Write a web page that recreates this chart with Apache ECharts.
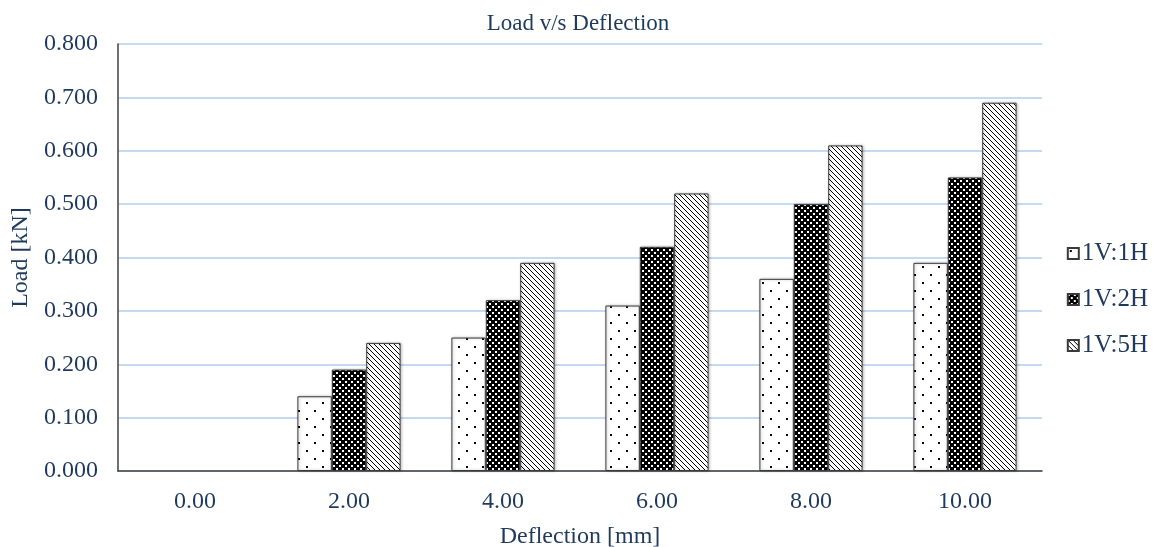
<!DOCTYPE html>
<html>
<head>
<meta charset="utf-8">
<script src="https://cdn.jsdelivr.net/npm/echarts@6/dist/echarts.min.js"></script>
<style>html,body{margin:0;padding:0;background:#fff}#c{width:1156px;height:547px}</style>
</head>
<body>
<div id="c"></div>
<script>
const categories = ['0.00', '2.00', '4.00', '6.00', '8.00', '10.00'];
const s1V1H = [0, 0.14, 0.25, 0.31, 0.36, 0.39];
const s1V2H = [0, 0.19, 0.32, 0.42, 0.50, 0.55];
const s1V5H = [0, 0.24, 0.39, 0.52, 0.61, 0.69];
const seriesNames = ['1V:1H', '1V:2H', '1V:5H'];

function makeTile(w, h, fn) {
  const c = document.createElement('canvas');
  c.width = w; c.height = h;
  const ctx = c.getContext('2d');
  const img = ctx.createImageData(w, h);
  for (let y = 0; y < h; y++) for (let x = 0; x < w; x++) {
    const v = fn(x, y) ? 0 : 255;
    const i = (y * w + x) * 4;
    img.data[i] = v; img.data[i+1] = v; img.data[i+2] = v; img.data[i+3] = 255;
  }
  ctx.putImageData(img, 0, 0);
  return c;
}
const inDot = (x, y, dx, dy) => (x >= dx && x < dx + 2 && y >= dy && y < dy + 2);
const pat1 = makeTile(16, 16, (x, y) => inDot(x, y, 2, 2) || inDot(x, y, 10, 10));
const pat2 = makeTile(6, 6, (x, y) => !(inDot(x, y, 0, 0) || inDot(x, y, 3, 3)));
const pat3 = makeTile(5, 5, (x, y) => ((x - y + 10) % 5 === 0));

const txt = '#1f3a5c';
const font = 'Liberation Serif';
const chart = echarts.init(document.getElementById('c'));
const barStyle = (pat) => ({
  color: { image: pat, repeat: 'repeat' },
  borderColor: '#3a3a3a', borderWidth: 1,
  shadowColor: 'rgba(0,0,0,0.25)', shadowBlur: 3, shadowOffsetX: 1
});
const toItems = (arr) => arr.map(v => v === 0 ? { value: v, itemStyle: { borderWidth: 0, shadowBlur: 0, shadowOffsetX: 0 } } : v);
chart.setOption({
  animation: false,
  title: {
    text: 'Load v/s Deflection', left: 'center', top: 7,
    textStyle: { fontFamily: font, fontSize: 23, fontWeight: 'normal', color: txt }
  },
  legend: {
    orient: 'vertical', right: 3, top: 236, itemGap: 21,
    itemWidth: 11, itemHeight: 11,
    icon: 'rect',
    textStyle: { fontFamily: font, fontSize: 25, color: txt, padding: [0,0,0,-2] },
    data: seriesNames
  },
  grid: { left: 118, right: 114, top: 44, bottom: 76, outerBoundsMode: 'none', containLabel: false },
  xAxis: {
    type: 'category', data: categories,
    name: 'Deflection [mm]', nameLocation: 'middle', nameGap: 54,
    nameTextStyle: { fontFamily: font, fontSize: 24, color: txt },
    axisLine: { lineStyle: { color: '#404040', width: 1.5 } },
    axisTick: { show: false },
    axisLabel: { fontFamily: font, fontSize: 24, color: txt, margin: 19 }
  },
  yAxis: {
    type: 'value', min: 0, max: 0.8, interval: 0.1,
    name: 'Load [kN]', nameLocation: 'middle', nameGap: 82, nameRotate: 90,
    nameTextStyle: { fontFamily: font, fontSize: 24, color: txt },
    axisLine: { show: true, lineStyle: { color: '#404040', width: 1.5 } },
    axisTick: { show: false },
    axisLabel: { fontFamily: font, fontSize: 24, color: txt, margin: 20, formatter: v => v.toFixed(3) },
    splitLine: { lineStyle: { color: '#c5d9f1', width: 2 } }
  },
  series: [
    { name: seriesNames[0], type: 'bar', data: toItems(s1V1H), barGap: '0%', barCategoryGap: '33%', itemStyle: barStyle(pat1) },
    { name: seriesNames[1], type: 'bar', data: toItems(s1V2H), barGap: '0%', barCategoryGap: '33%', itemStyle: barStyle(pat2) },
    { name: seriesNames[2], type: 'bar', data: toItems(s1V5H), barGap: '0%', barCategoryGap: '33%', itemStyle: barStyle(pat3) }
  ]
});
</script>
</body>
</html>
